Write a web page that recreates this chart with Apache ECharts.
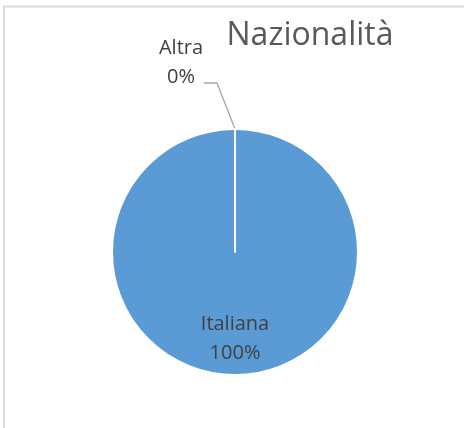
<!DOCTYPE html>
<html><head><meta charset="utf-8">
<script src="https://cdn.jsdelivr.net/npm/echarts@6/dist/echarts.min.js"></script>
<style>html,body{margin:0;padding:0;background:#fff}#c{width:464px;height:428px}</style>
</head><body><div id="c"></div>
<script>
const titleText = 'Nazionalità';
const categories = ['Italiana', 'Altra'];
const values = [100, 0];
const colors = ['#5b9bd5', '#ed7d31'];

const chart = echarts.init(document.getElementById('c'), null, {renderer: 'canvas'});
const FONT = 'Open Sans';
chart.setOption({
  animation: false,
  backgroundColor: '#fff',
  graphic: [{
    type: 'rect', shape: {x: 4, y: 6.5, width: 480, height: 440},
    style: {fill: 'none', stroke: '#d9d9d9', lineWidth: 2}, silent: true
  }],
  title: {
    text: titleText, left: 305, top: 15, textAlign: 'center',
    textStyle: {fontFamily: FONT, fontSize: 32, fontWeight: 'normal', color: '#595959'}
  },
  series: [{
    type: 'pie',
    center: [235, 252], radius: 123,
    startAngle: 90, clockwise: true,
    avoidLabelOverlap: false,
    data: categories.map((c, i) => ({
      name: c, value: values[i],
      itemStyle: {color: colors[i]},
      label: i === 0 ? {position: 'inside'} : {position: 'outside'},
      labelLine: i === 0 ? {show: false} : {show: true, length: 40, length2: 20, lineStyle: {color: '#a6a6a6', width: 1.3}}
    })),
    itemStyle: {borderColor: '#fff', borderWidth: 2},
    label: {
      formatter: '{b}\n{d}%', fontFamily: FONT, fontSize: 20, color: '#404040', lineHeight: 29
    },
    labelLayout: function (p) {
      if (p.dataIndex === 0) return {dy: 22};
      const s = p.labelLinePoints ? p.labelLinePoints[0] : [235, 129];
      return {x: s[0] - 54, y: s[1] - 66, align: 'center', verticalAlign: 'middle',
        labelLinePoints: [[s[0], s[1]], [s[0] - 18, s[1] - 46], [s[0] - 31, s[1] - 46]]};
    }
  }]
});
</script></body></html>
